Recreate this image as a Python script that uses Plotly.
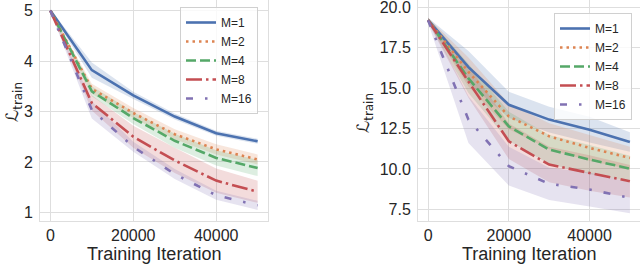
import plotly.graph_objects as go

iters = [0, 10000, 20000, 30000, 40000, 50000]
labels = ["M=1", "M=2", "M=4", "M=8", "M=16"]
colors = ["#4C72B0", "#DD8452", "#55A868", "#C44E52", "#8172B3"]
rgb = [(76, 114, 176), (221, 132, 82), (85, 168, 104), (196, 78, 82), (129, 114, 179)]
dashes = ["solid", "2.5px,4px", "10px,4px", "16px,4px,2.5px,4px", "7px,12px,2.5px,12px"]

# Left panel (mean, spread)
left_mean = {
    "M=1": [5.0, 3.82, 3.32, 2.90, 2.57, 2.41],
    "M=2": [5.0, 3.45, 2.97, 2.55, 2.25, 2.05],
    "M=4": [5.0, 3.40, 2.87, 2.42, 2.08, 1.88],
    "M=8": [5.0, 3.17, 2.50, 2.03, 1.63, 1.41],
    "M=16": [5.0, 3.03, 2.30, 1.76, 1.34, 1.14],
}
left_std = {
    "M=1": [0.02, 0.15, 0.07, 0.06, 0.05, 0.05],
    "M=2": [0.02, 0.10, 0.10, 0.10, 0.10, 0.10],
    "M=4": [0.02, 0.10, 0.12, 0.14, 0.15, 0.16],
    "M=8": [0.02, 0.15, 0.22, 0.25, 0.24, 0.22],
    "M=16": [0.02, 0.17, 0.10, 0.10, 0.09, 0.09],
}

# Right panel (mean, spread)
right_mean = {
    "M=1": [19.2, 16.3, 13.97, 13.05, 12.43, 11.67],
    "M=2": [19.2, 16.0, 13.25, 12.02, 11.30, 10.68],
    "M=4": [19.2, 15.6, 12.63, 11.20, 10.58, 10.02],
    "M=8": [19.2, 15.4, 11.71, 10.27, 9.75, 9.24],
    "M=16": [19.2, 13.05, 10.17, 9.08, 8.73, 8.21],
}
right_std = {
    "M=1": [0.15, 1.0, 0.8, 0.8, 0.8, 0.6],
    "M=2": [0.15, 0.9, 0.8, 0.8, 0.8, 0.7],
    "M=4": [0.15, 0.9, 0.9, 0.9, 0.9, 0.8],
    "M=8": [0.15, 1.0, 1.1, 1.1, 1.1, 1.0],
    "M=16": [0.15, 1.45, 1.2, 1.0, 1.05, 0.95],
}

fig = go.Figure()

panels = [("x", "y", left_mean, left_std, "legend"), ("x2", "y2", right_mean, right_std, "legend2")]
for xa, ya, means, stds, lg in panels:
    for i, lab in enumerate(labels):
        m, s = means[lab], stds[lab]
        up = [a + b for a, b in zip(m, s)]
        lo = [a - b for a, b in zip(m, s)]
        r, g, b = rgb[i]
        fig.add_trace(go.Scatter(x=iters, y=up, xaxis=xa, yaxis=ya, mode="lines",
                                 line=dict(width=0, color=colors[i]), showlegend=False, hoverinfo="skip"))
        fig.add_trace(go.Scatter(x=iters, y=lo, xaxis=xa, yaxis=ya, mode="lines",
                                 line=dict(width=0, color=colors[i]), fill="tonexty",
                                 fillcolor=f"rgba({r},{g},{b},0.2)", showlegend=False, hoverinfo="skip"))
    for i, lab in enumerate(labels):
        fig.add_trace(go.Scatter(x=iters, y=means[lab], xaxis=xa, yaxis=ya, mode="lines", name=lab,
                                 line=dict(color=colors[i], width=2.6, dash=dashes[i]),
                                 legend=lg, showlegend=True))

grid = "#dedede"
FONT = "Liberation Sans, Arial, sans-serif"
tickfont = dict(family=FONT, size=16, color="#262626")
axcommon = dict(showgrid=True, gridcolor=grid, gridwidth=1, showline=True, linecolor=grid, linewidth=1,
                mirror=True, zeroline=False, ticks="", tickfont=tickfont, ticklabeloverflow="allow")

W, H = 640, 268
legcommon = dict(xanchor="left", yanchor="top", bgcolor="rgba(255,255,255,0.8)", bordercolor="#d0d0d0",
                 borderwidth=1, font=dict(family=FONT, size=12, color="#262626"), itemwidth=30,
                 traceorder="normal")
fig.update_layout(
    width=W, height=H, margin=dict(l=0, r=0, t=0, b=0, autoexpand=False),
    plot_bgcolor="white", paper_bgcolor="white",
    font=dict(family=FONT, color="#262626"),
    xaxis=dict(domain=[40 / W, 268 / W], range=[-2500, 52500], tickvals=[0, 20000, 40000],
               ticktext=["0", "20000", "40000"], anchor="y", **axcommon),
    yaxis=dict(domain=[1 - 221 / H, 1], range=[0.83, 5.21], tickvals=[1, 2, 3, 4, 5], anchor="x",
               ticklabelstandoff=3, **axcommon),
    xaxis2=dict(domain=[418 / W, 1.0], range=[-2500, 52500], tickvals=[0, 20000, 40000],
                ticktext=["0", "20000", "40000"], anchor="y2", **axcommon),
    yaxis2=dict(domain=[1 - 221 / H, 1], range=[6.78, 20.45], tickvals=[7.5, 10, 12.5, 15, 17.5, 20],
                ticktext=["7.5", "10.0", "12.5", "15.0", "17.5", "20.0"], anchor="x2",
                ticklabelstandoff=3, **axcommon),
    legend=dict(x=180 / W, y=1 - 7 / H, **legcommon),
    legend2=dict(x=554 / W, y=1 - 13 / H, **legcommon),
    annotations=[
        dict(text="Training Iteration", x=154 / W, y=1 - 254 / H, xref="paper", yref="paper",
             showarrow=False, font=dict(size=18, color="#262626"), xanchor="center", yanchor="middle"),
        dict(text="Training Iteration", x=529 / W, y=1 - 254 / H, xref="paper", yref="paper",
             showarrow=False, font=dict(size=18, color="#262626"), xanchor="center", yanchor="middle"),
        dict(text="ℒ<sub>train</sub>", x=13 / W, y=1 - 102 / H, xref="paper", yref="paper", textangle=-90,
             showarrow=False, font=dict(family="DejaVu Sans, " + FONT, size=17, color="#262626"),
             xanchor="center", yanchor="middle"),
        dict(text="ℒ<sub>train</sub>", x=365 / W, y=1 - 113 / H, xref="paper", yref="paper", textangle=-90,
             showarrow=False, font=dict(family="DejaVu Sans, " + FONT, size=17, color="#262626"),
             xanchor="center", yanchor="middle"),
    ],
)

fig.write_html("out.html", config={"displayModeBar": False},
               post_script="document.body.style.margin='0px';document.body.style.overflow='hidden';")
